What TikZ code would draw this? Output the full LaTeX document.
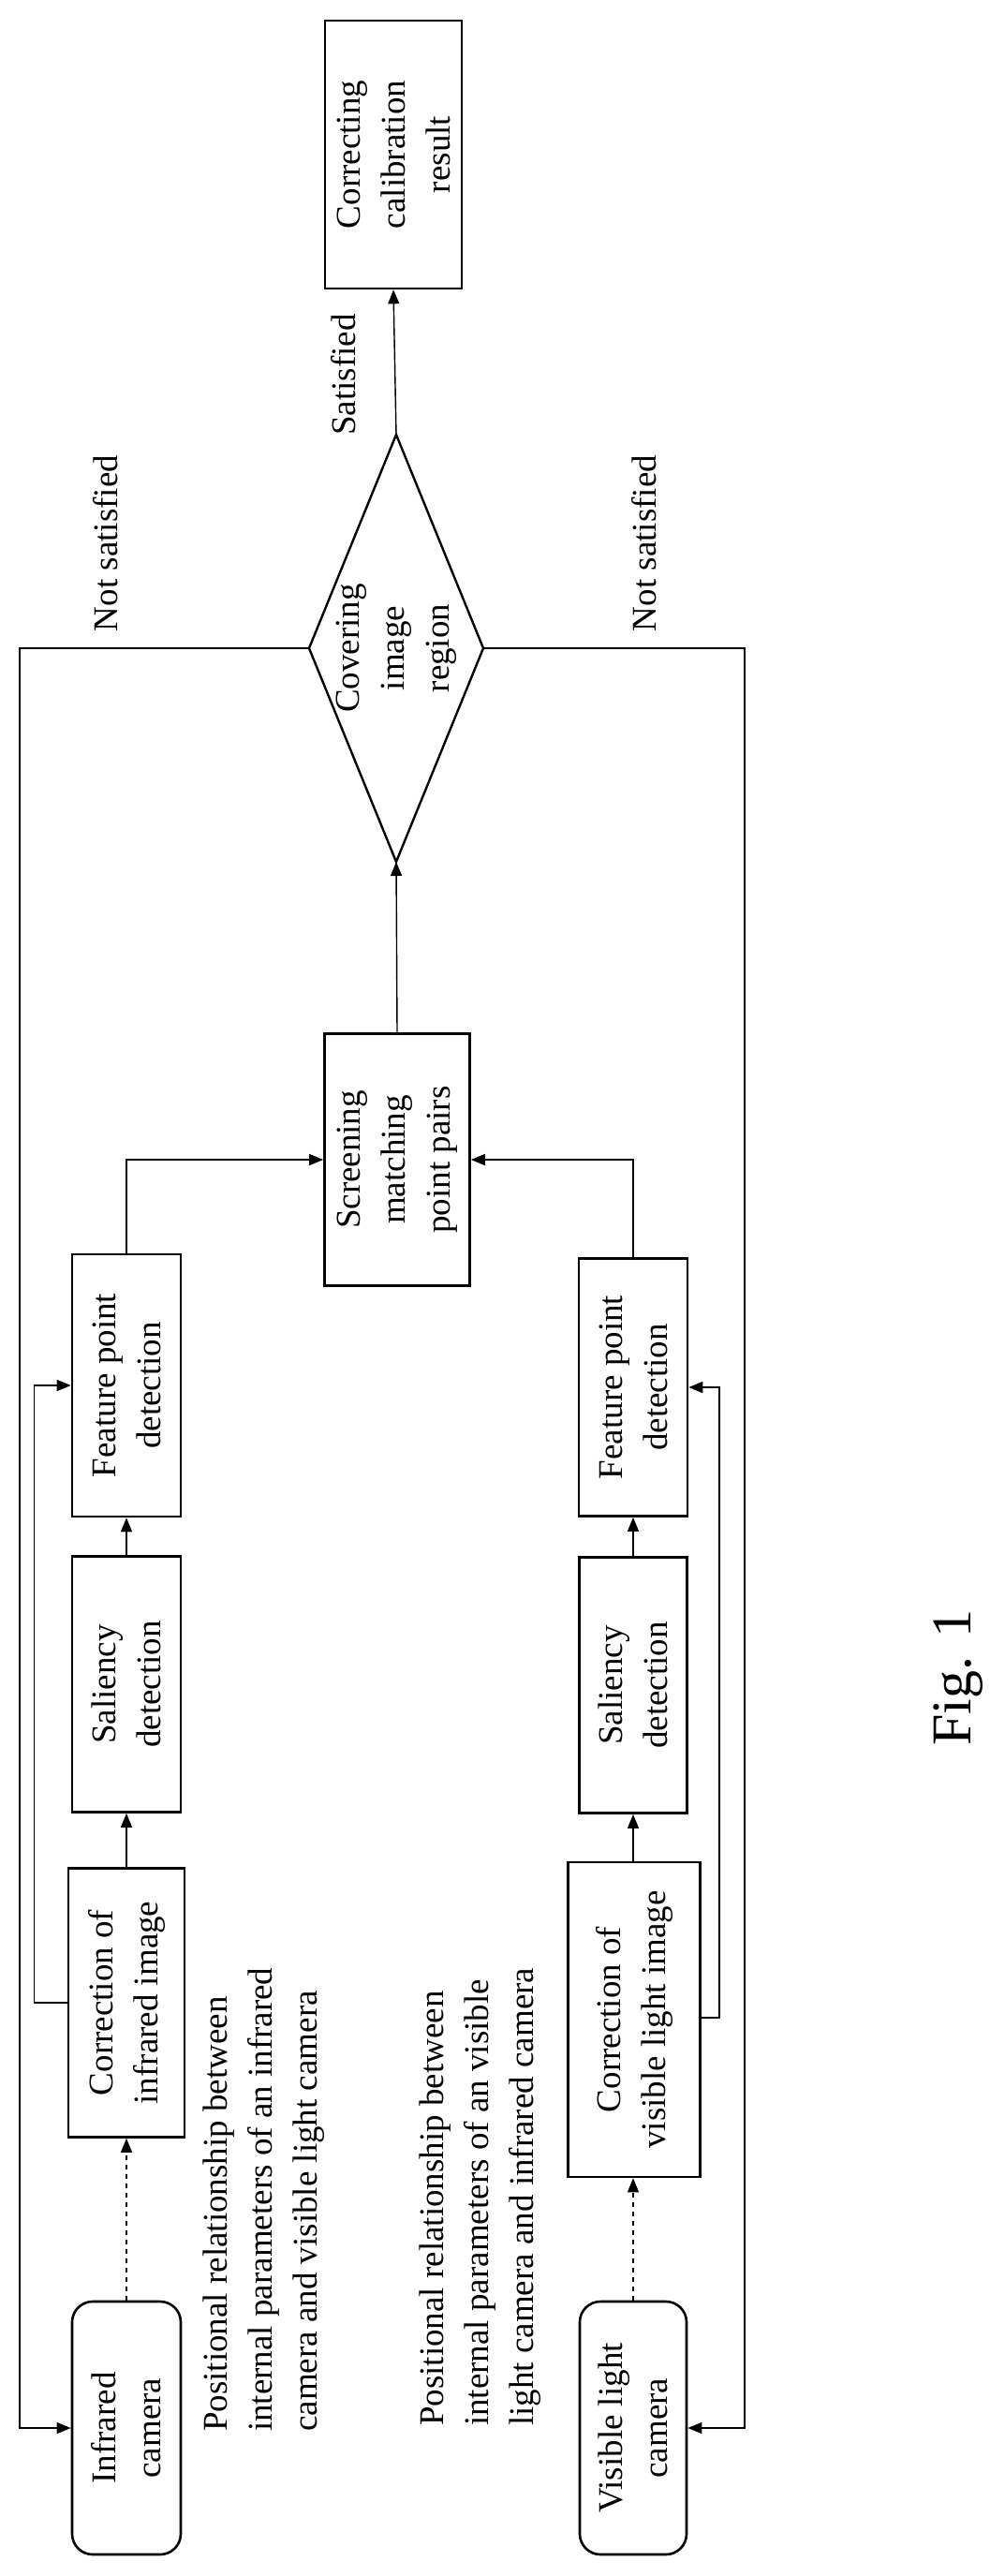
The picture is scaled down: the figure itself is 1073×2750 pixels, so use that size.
\documentclass[tikz,border=0pt]{standalone}
\usepackage{fontspec}
\setmainfont{Liberation Serif}
\usetikzlibrary{arrows.meta}
\begin{document}
\begin{tikzpicture}[x=1pt,y=-1pt,
  box/.style={draw,line width=2.6pt,rotate=90,align=center,inner sep=0pt,font=\fontsize{37}{48}\selectfont},
  cam/.style={box,rounded corners=22pt},
  lbl/.style={rotate=90,inner sep=0pt,font=\fontsize{37}{48}\selectfont},
  con/.style={line width=1.4pt,-{Triangle[length=15pt,width=12pt]}},
  dsh/.style={con,dash pattern=on 5pt off 5pt}]
\useasboundingbox (0,0) rectangle (1073,2750);
% nodes (minimum width = image vertical extent, minimum height = image horizontal extent)
\node[cam,minimum width=270,minimum height=116] (ircam) at (135,2592) {Infrared\\camera};
\node[cam,minimum width=270,minimum height=114] (vlcam) at (676,2592) {Visible light\\camera};
\node[box,minimum width=287,minimum height=124] (ircorr) at (135,2138) {Correction of\\infrared image};
\node[box,minimum width=336,minimum height=141] (vlcorr) at (677,2156) {Correction of\\visible light image};
\node[box,minimum width=273,minimum height=116] (irsal) at (135,1798) {Saliency\\detection};
\node[box,minimum width=273,minimum height=115] (vlsal) at (676,1799) {Saliency\\detection};
\node[box,minimum width=280,minimum height=116] (irfeat) at (135,1479) {Feature point\\detection};
\node[box,minimum width=275,minimum height=116] (vlfeat) at (676,1481) {Feature point\\detection};
\node[box,minimum width=269,minimum height=155] (screen) at (424,1238) {Screening\\matching\\point pairs};
\node[box,minimum width=286,minimum height=146] (result) at (420,165) {Correcting\\calibration\\result};
% decision diamond
\coordinate (dT) at (423,464);
\coordinate (dB) at (423,920);
\coordinate (dL) at (330,692);
\coordinate (dR) at (516,692);
\draw[line width=2.4pt,line join=miter] (dT) -- (dR) -- (dB) -- (dL) -- cycle;
\node[lbl,align=center] (dia) at (423,692) {Covering\\image\\region};
% texts
\node[lbl,align=left,anchor=west] (irtext) at (282,2596) {Positional relationship between\\internal parameters of an infrared\\camera and visible light camera};
\node[lbl,align=left,anchor=west] (vltext) at (513,2590) {Positional relationship between\\internal parameters of an visible\\light camera and infrared camera};
\node[lbl] (sat) at (367,400) {Satisfied};
\node[lbl] (ns1) at (113,580) {Not satisfied};
\node[lbl] (ns2) at (688,580) {Not satisfied};
\node[rotate=90,inner sep=0pt,font=\fontsize{60}{70}\selectfont] (fig) at (1023,1791) {Fig. 1};
% connectors
\draw[dsh] (ircam.east) -- (ircorr.west);
\draw[dsh] (vlcam.east) -- (vlcam.east |- vlcorr.west);
\draw[con] (ircorr.east) -- (irsal.west);
\draw[con] (irsal.east) -- (irfeat.west);
\draw[con] (vlcorr.east -| vlsal.center) -- (vlsal.west);
\draw[con] (vlsal.east) -- (vlfeat.west);
\draw[con] (ircorr.north) -- ++(-35,0) |- (irfeat.north);
\draw[con] ([yshift=2pt]vlcorr.south) -- ++(19,0) |- (vlfeat.south);
\draw[con] (irfeat.east) |- (screen.north);
\draw[con] (vlfeat.east) |- (screen.south);
\draw[con] (screen.east) -- (dB);
\draw[con] (dT) -- (result.west);
\draw[con] (dL) -- (21,692) |- (ircam.north);
\draw[con] (dR) -- (795,692) |- (vlcam.south);
\end{tikzpicture}
\end{document}
